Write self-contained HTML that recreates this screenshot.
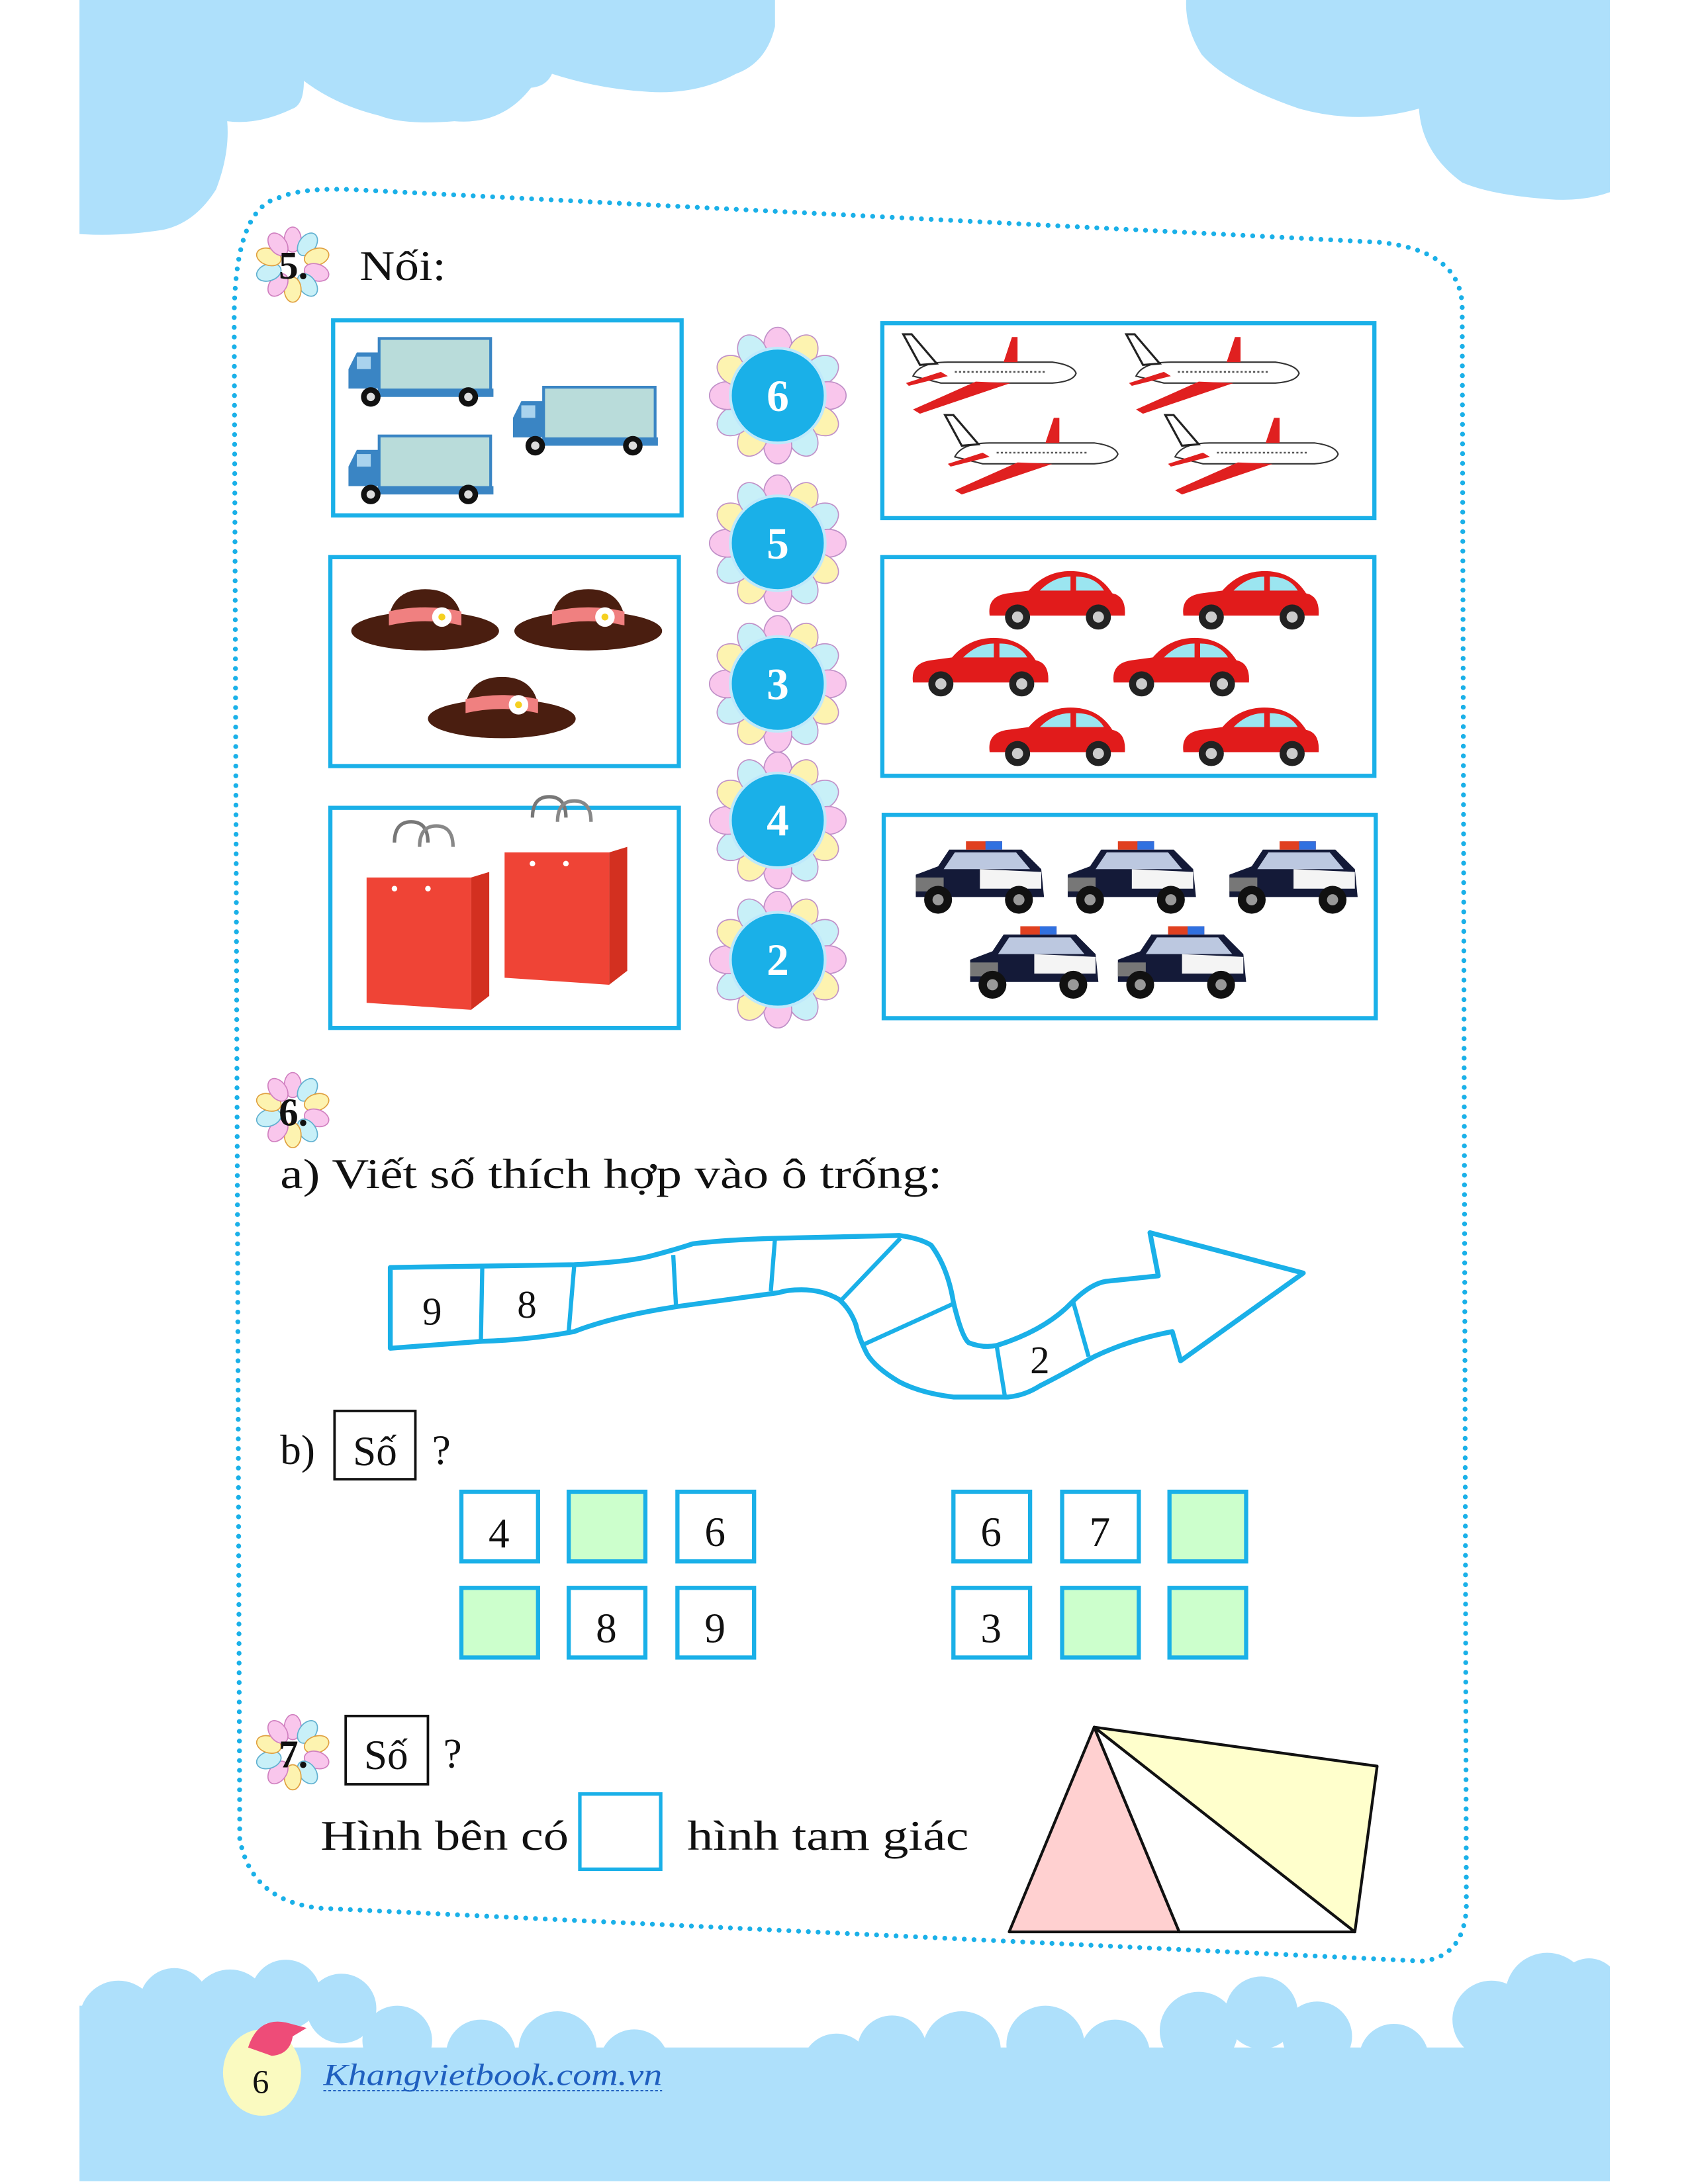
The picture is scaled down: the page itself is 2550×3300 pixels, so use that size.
<!DOCTYPE html>
<html><head><meta charset="utf-8"><style>
html,body{margin:0;padding:0;background:#fff}
svg{display:block}
text{font-family:"Liberation Serif",serif}
</style></head><body>
<svg width="2550" height="3300" viewBox="0 0 1211 1568" preserveAspectRatio="none" xmlns="http://www.w3.org/2000/svg">
<defs>
<clipPath id="pg"><rect x="57" y="0" width="1098" height="1568"/></clipPath>
<g id="fl">
 <g stroke="#c090c8" stroke-width="0.8">
  <ellipse cx="0" cy="-36" rx="10" ry="13" fill="#f9c6ec"/>
  <ellipse cx="0" cy="-36" rx="10" ry="13" fill="#fdf3b0" transform="rotate(30)"/>
  <ellipse cx="0" cy="-36" rx="10" ry="13" fill="#c8f0f8" transform="rotate(60)"/>
  <ellipse cx="0" cy="-36" rx="10" ry="13" fill="#f9c6ec" transform="rotate(90)"/>
  <ellipse cx="0" cy="-36" rx="10" ry="13" fill="#fdf3b0" transform="rotate(120)"/>
  <ellipse cx="0" cy="-36" rx="10" ry="13" fill="#c8f0f8" transform="rotate(150)"/>
  <ellipse cx="0" cy="-36" rx="10" ry="13" fill="#f9c6ec" transform="rotate(180)"/>
  <ellipse cx="0" cy="-36" rx="10" ry="13" fill="#fdf3b0" transform="rotate(210)"/>
  <ellipse cx="0" cy="-36" rx="10" ry="13" fill="#c8f0f8" transform="rotate(240)"/>
  <ellipse cx="0" cy="-36" rx="10" ry="13" fill="#f9c6ec" transform="rotate(270)"/>
  <ellipse cx="0" cy="-36" rx="10" ry="13" fill="#fdf3b0" transform="rotate(300)"/>
  <ellipse cx="0" cy="-36" rx="10" ry="13" fill="#c8f0f8" transform="rotate(330)"/>
 </g>
 <circle r="34" fill="#1ab0e8" stroke="#bfe9fb" stroke-width="2"/>
</g>
<g id="qf" stroke-width="0.8">
  <ellipse cx="0" cy="-18" rx="6" ry="9" fill="#f9c6ec" stroke="#d080c0"/>
  <ellipse cx="0" cy="-18" rx="6" ry="9" fill="#c8f0f8" stroke="#60b0d0" transform="rotate(36)"/>
  <ellipse cx="0" cy="-18" rx="6" ry="9" fill="#fdf3b0" stroke="#e0a040" transform="rotate(72)"/>
  <ellipse cx="0" cy="-18" rx="6" ry="9" fill="#f9c6ec" stroke="#d080c0" transform="rotate(108)"/>
  <ellipse cx="0" cy="-18" rx="6" ry="9" fill="#c8f0f8" stroke="#60b0d0" transform="rotate(144)"/>
  <ellipse cx="0" cy="-18" rx="6" ry="9" fill="#fdf3b0" stroke="#e0a040" transform="rotate(180)"/>
  <ellipse cx="0" cy="-18" rx="6" ry="9" fill="#f9c6ec" stroke="#d080c0" transform="rotate(216)"/>
  <ellipse cx="0" cy="-18" rx="6" ry="9" fill="#c8f0f8" stroke="#60b0d0" transform="rotate(252)"/>
  <ellipse cx="0" cy="-18" rx="6" ry="9" fill="#fdf3b0" stroke="#e0a040" transform="rotate(288)"/>
  <ellipse cx="0" cy="-18" rx="6" ry="9" fill="#f9c6ec" stroke="#d080c0" transform="rotate(324)"/>
</g>
<g id="truck">
 <rect x="22" y="0" width="80" height="38" fill="#b9dcda" stroke="#3a85c4" stroke-width="2"/>
 <path d="M0 22 L6 10 L22 10 L22 42 L104 42 L104 36 L0 36 Z" fill="#3a85c4"/>
 <rect x="6" y="13" width="10" height="9" fill="#a9d3ee"/>
 <circle cx="16" cy="42" r="7" fill="#111"/><circle cx="16" cy="42" r="3" fill="#ddd"/>
 <circle cx="86" cy="42" r="7" fill="#111"/><circle cx="86" cy="42" r="3" fill="#ddd"/>
</g>
<g id="hat">
 <ellipse cx="0" cy="8" rx="53" ry="14" fill="#4a1e10"/>
 <path d="M-27 8 Q-27 -22 0 -22 Q27 -22 27 8 Z" fill="#4a1e10"/>
 <path d="M-26 -6 Q0 -12 26 -6 L26 4 Q0 -2 -26 4 Z" fill="#f08080"/>
 <circle cx="12" cy="-2" r="7" fill="#fff"/><circle cx="12" cy="-2" r="2.5" fill="#f5d020"/>
</g>
<g id="bag">
 <path d="M20 -25 Q20 -40 32 -40 Q44 -40 44 -25" fill="none" stroke="#777" stroke-width="2.5"/>
 <path d="M38 -22 Q38 -37 50 -37 Q62 -37 62 -22" fill="none" stroke="#888" stroke-width="2.5"/>
 <path d="M0 0 L75 0 L75 95 L0 90 Z" fill="#ef4436"/>
 <path d="M75 0 L88 -4 L88 85 L75 95 Z" fill="#d33020"/>
 <circle cx="20" cy="8" r="2" fill="#fff"/><circle cx="44" cy="8" r="2" fill="#fff"/>
</g>
<g id="plane">
 <path d="M-55 0 Q-50 -10 -30 -10 L45 -10 Q60 -8 62 -2 Q60 4 45 5 L-35 5 Z" fill="#fff" stroke="#333" stroke-width="1"/>
 <path d="M-50 -8 L-62 -30 L-56 -30 L-38 -9 Z" fill="#fff" stroke="#222" stroke-width="1.5"/>
 <path d="M10 -10 L16 -28 L20 -28 L20 -10 Z" fill="#e02020"/>
 <path d="M-10 4 L-55 24 L-50 27 L15 5 Z" fill="#e02020"/>
 <path d="M-35 -3 L-60 5 L-58 7 L-30 0 Z" fill="#e02020"/>
 <line x1="-25" y1="-3" x2="40" y2="-3" stroke="#555" stroke-width="1.2" stroke-dasharray="1.5 1.5"/>
</g>
<g id="car">
 <path d="M-48 10 Q-50 -4 -35 -6 L-20 -8 Q-8 -22 10 -22 Q30 -22 40 -6 Q50 -4 49 10 Z" fill="#e11b1b"/>
 <path d="M-12 -8 Q-2 -18 10 -18 L10 -8 Z M14 -18 Q28 -18 34 -8 L14 -8 Z" fill="#9be5f0"/>
 <circle cx="-28" cy="11" r="9" fill="#222"/><circle cx="-28" cy="11" r="4" fill="#ccc"/>
 <circle cx="30" cy="11" r="9" fill="#222"/><circle cx="30" cy="11" r="4" fill="#ccc"/>
</g>
<g id="pol">
 <path d="M-46 12 L-46 -4 L-30 -10 L-22 -22 L30 -22 L44 -8 L46 12 Z" fill="#141a38"/>
 <path d="M-18 -20 L26 -20 L36 -8 L-26 -8 Z" fill="#bcc8e0"/>
 <path d="M0 -8 L44 -6 L44 6 L0 6 Z" fill="#f4f4f4"/>
 <rect x="-10" y="-28" width="26" height="6" fill="#e04020"/><rect x="4" y="-28" width="12" height="6" fill="#3070e0"/>
 <rect x="-46" y="-2" width="20" height="10" fill="#777"/>
 <circle cx="-30" cy="14" r="10" fill="#111"/><circle cx="-30" cy="14" r="4" fill="#999"/>
 <circle cx="28" cy="14" r="10" fill="#111"/><circle cx="28" cy="14" r="4" fill="#999"/>
</g>
</defs>

<!-- top clouds -->
<path d="M57 0 L556 0 L556 19 Q550 45 528 53 Q500 68 466 66 Q430 64 396 53 Q392 62 381 63 Q360 90 326 87 Q290 90 272 83 Q240 75 218 58 Q218 75 210 78 Q185 90 163 87 Q165 110 155 136 Q140 160 117 165 Q85 170 57 168 Z" fill="#aee0fb"/>
<path d="M851 0 L1155 0 L1155 138 Q1135 145 1111 143 Q1070 140 1049 131 Q1020 110 1018 78 Q975 90 932 78 Q880 60 862 39 Q850 20 851 0 Z" fill="#aee0fb"/>

<!-- bottom cloud -->
<g fill="#aee0fb" clip-path="url(#pg)">
<rect x="57" y="1470" width="1098" height="96"/>
<rect x="57" y="1440" width="110" height="40"/>
<circle cx="85" cy="1450" r="28"/><circle cx="125" cy="1438" r="25"/><circle cx="165" cy="1442" r="28"/>
<circle cx="205" cy="1432" r="25"/><circle cx="245" cy="1442" r="25"/><circle cx="285" cy="1465" r="25"/>
<circle cx="345" cy="1475" r="25"/><circle cx="400" cy="1472" r="28"/><circle cx="455" cy="1482" r="25"/>
<circle cx="600" cy="1485" r="25"/><circle cx="640" cy="1472" r="25"/><circle cx="690" cy="1472" r="28"/>
<circle cx="750" cy="1468" r="28"/><circle cx="800" cy="1475" r="25"/><circle cx="860" cy="1458" r="28"/>
<circle cx="905" cy="1445" r="26"/><circle cx="945" cy="1462" r="25"/><circle cx="1000" cy="1478" r="25"/>
<circle cx="1070" cy="1450" r="28"/><circle cx="1110" cy="1432" r="30"/><circle cx="1140" cy="1428" r="22"/>
<rect x="1060" y="1440" width="95" height="40"/>
</g>

<!-- dotted border -->
<path d="M172 1320 L168 230 Q168 150 200 142 Q215 135 250 136 L990 174 Q1048 180 1049 220 L1052 1370 Q1050 1405 1020 1408 L230 1370 Q180 1365 172 1320 Z" fill="none" stroke="#1ab0e8" stroke-width="3.5" stroke-dasharray="0 7" stroke-linecap="round"/>

<!-- Q5 -->
<use href="#qf" x="210" y="190"/>
<text x="200" y="200" font-size="28" font-weight="bold" fill="#111">5.</text>
<text x="258" y="201" font-size="30" fill="#111" textLength="62" lengthAdjust="spacingAndGlyphs">Nối:</text>

<g fill="none" stroke="#1ab0e8" stroke-width="3">
<rect x="239" y="230" width="250" height="140"/>
<rect x="237" y="400" width="250" height="150"/>
<rect x="237" y="580" width="250" height="158"/>
<rect x="633" y="232" width="353" height="140"/>
<rect x="633" y="400" width="353" height="157"/>
<rect x="634" y="585" width="353" height="146"/>
</g>

<use href="#truck" x="250" y="243"/><use href="#truck" x="368" y="278"/><use href="#truck" x="250" y="313"/>
<use href="#hat" x="305" y="445"/><use href="#hat" x="422" y="445"/><use href="#hat" x="360" y="508"/>
<use href="#bag" x="263" y="630"/><use href="#bag" x="362" y="612"/>
<use href="#plane" x="710" y="270"/><use href="#plane" x="870" y="270"/><use href="#plane" x="740" y="328"/><use href="#plane" x="898" y="328"/>
<use href="#car" x="758" y="432"/><use href="#car" x="897" y="432"/><use href="#car" x="703" y="480"/><use href="#car" x="847" y="480"/><use href="#car" x="758" y="530"/><use href="#car" x="897" y="530"/>
<use href="#pol" x="703" y="632"/><use href="#pol" x="812" y="632"/><use href="#pol" x="928" y="632"/><use href="#pol" x="742" y="693"/><use href="#pol" x="848" y="693"/>

<use href="#fl" x="558" y="284"/><use href="#fl" x="558" y="390"/><use href="#fl" x="558" y="491"/><use href="#fl" x="558" y="589"/><use href="#fl" x="558" y="689"/>
<g font-size="32" font-weight="bold" fill="#fff" text-anchor="middle">
<text x="558" y="295">6</text><text x="558" y="401">5</text><text x="558" y="502">3</text><text x="558" y="600">4</text><text x="558" y="700">2</text>
</g>

<!-- Q6 -->
<use href="#qf" x="210" y="797"/>
<text x="200" y="808" font-size="28" font-weight="bold" fill="#111">6.</text>
<text x="201" y="853" font-size="30" fill="#111" textLength="475" lengthAdjust="spacingAndGlyphs">a) Viết số thích hợp vào ô trống:</text>

<path d="M280 910 L412 908 Q450 906 466 902 Q485 897 497 893 Q520 890 559 889 L645 887 Q660 889 668 894 Q680 910 684 935 Q690 960 695 964 Q705 968 715 966 Q750 955 769 935 Q782 922 793 920 L831 916 L825 885 L935 914 L847 977 L841 956 Q810 962 785 974 Q760 988 746 995 Q735 1002 723 1003 L684 1003 Q660 1000 645 992 Q628 982 622 972 Q616 960 614 951 Q610 940 602 933 Q590 926 575 926 Q565 926 559 928 L486 938 Q440 945 412 956 Q380 962 346 963 L280 968 Z" fill="#fff" stroke="#1ab0e8" stroke-width="3.5" stroke-linejoin="round"/>
<g stroke="#1ab0e8" stroke-width="3">
<line x1="346" y1="909" x2="345" y2="963"/><line x1="412" y1="908" x2="408" y2="956"/>
<line x1="483" y1="901" x2="485" y2="938"/><line x1="556" y1="889" x2="553" y2="927"/>
<line x1="646" y1="889" x2="603" y2="934"/><line x1="684" y1="936" x2="618" y2="966"/>
<line x1="715" y1="966" x2="721" y2="1003"/><line x1="770" y1="935" x2="781" y2="974"/>
</g>
<g font-size="28" fill="#111" text-anchor="middle">
<text x="310" y="951">9</text><text x="378" y="946">8</text><text x="746" y="986">2</text>
</g>

<text x="201" y="1051" font-size="30" fill="#111">b)</text>
<rect x="240" y="1013" width="58" height="49" fill="none" stroke="#111" stroke-width="1.8"/>
<text x="269" y="1052" font-size="30" fill="#111" text-anchor="middle">Số</text>
<text x="310" y="1051" font-size="30" fill="#111">?</text>

<g stroke="#1ab0e8" stroke-width="3">
<rect x="331" y="1071" width="55" height="50" fill="#fff"/>
<rect x="408" y="1071" width="55" height="50" fill="#ccffcc"/>
<rect x="486" y="1071" width="55" height="50" fill="#fff"/>
<rect x="684" y="1071" width="55" height="50" fill="#fff"/>
<rect x="762" y="1071" width="55" height="50" fill="#fff"/>
<rect x="839" y="1071" width="55" height="50" fill="#ccffcc"/>
<rect x="331" y="1140" width="55" height="50" fill="#ccffcc"/>
<rect x="408" y="1140" width="55" height="50" fill="#fff"/>
<rect x="486" y="1140" width="55" height="50" fill="#fff"/>
<rect x="684" y="1140" width="55" height="50" fill="#fff"/>
<rect x="762" y="1140" width="55" height="50" fill="#ccffcc"/>
<rect x="839" y="1140" width="55" height="50" fill="#ccffcc"/>
</g>
<g font-size="30" fill="#111" text-anchor="middle">
<text x="358" y="1111">4</text><text x="513" y="1110">6</text><text x="711" y="1110">6</text><text x="789" y="1110">7</text>
<text x="435" y="1179">8</text><text x="513" y="1179">9</text><text x="711" y="1179">3</text>
</g>

<!-- Q7 -->
<use href="#qf" x="210" y="1258"/>
<text x="200" y="1269" font-size="28" font-weight="bold" fill="#111">7.</text>
<rect x="248" y="1232" width="59" height="49" fill="none" stroke="#111" stroke-width="1.8"/>
<text x="277" y="1270" font-size="30" fill="#111" text-anchor="middle">Số</text>
<text x="318" y="1269" font-size="30" fill="#111">?</text>
<text x="230" y="1328" font-size="30" fill="#111" textLength="178" lengthAdjust="spacingAndGlyphs">Hình bên có</text>
<rect x="416" y="1288" width="58" height="54" fill="none" stroke="#1ab0e8" stroke-width="2.5"/>
<text x="493" y="1328" font-size="30" fill="#111" textLength="202" lengthAdjust="spacingAndGlyphs">hình tam giác</text>

<g stroke="#111" stroke-width="2" stroke-linejoin="round">
<path d="M785 1240 L724 1387 L846 1387 Z" fill="#ffd0d0"/>
<path d="M785 1240 L846 1387 L972 1387 Z" fill="#fff"/>
<path d="M785 1240 L988 1268 L972 1387 Z" fill="#ffffcc"/>
</g>

<!-- footer -->
<ellipse cx="188" cy="1488" rx="28" ry="31" fill="#fafac0"/>
<path d="M178 1470 Q185 1448 205 1452 L220 1456 L210 1462 Q208 1475 195 1476 Z" fill="#ee4c78"/>
<text x="187" y="1503" font-size="24" fill="#111" text-anchor="middle">6</text>
<text x="232" y="1497" font-size="22" font-style="italic" fill="#1f5fbf" textLength="243" lengthAdjust="spacingAndGlyphs">Khangvietbook.com.vn</text>
<line x1="232" y1="1501" x2="475" y2="1501" stroke="#1f5fbf" stroke-width="1" stroke-dasharray="2 1.5"/>
</svg>
</body></html>
